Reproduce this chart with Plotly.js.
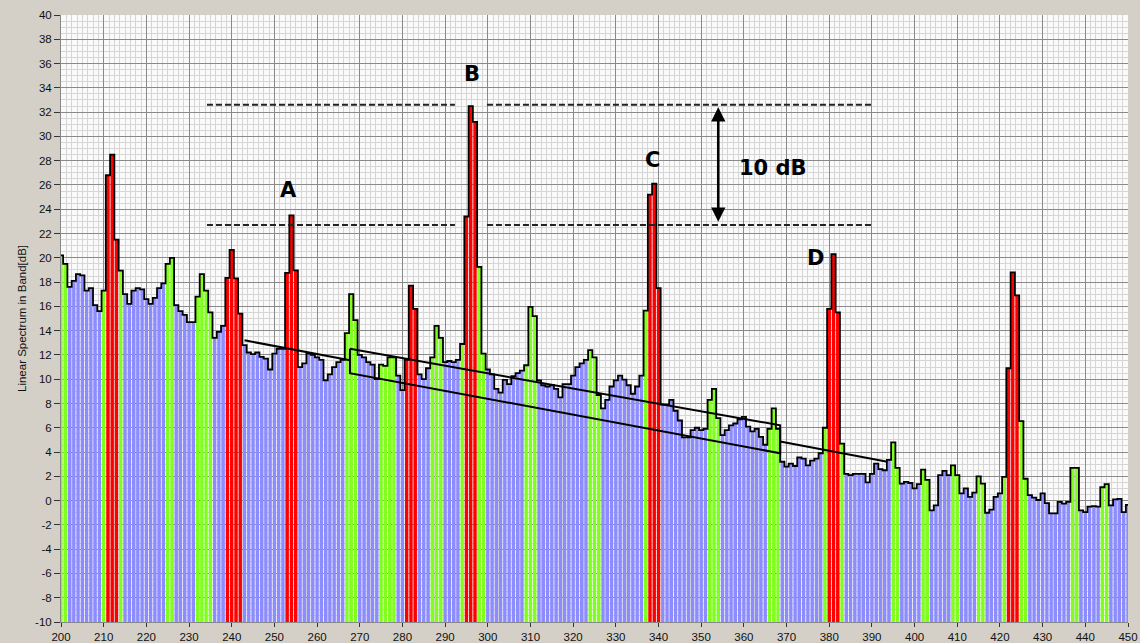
<!DOCTYPE html>
<html><head><meta charset="utf-8">
<script src="https://cdn.plot.ly/plotly-3.0.1.min.js"></script>
<style>html,body{margin:0;padding:0;background:#d4d0c8;overflow:hidden}#chart{width:1140px;height:643px}</style>
</head><body><div id="chart"></div>
<script>
// ---- data ----
const firstBin = 200;
const levels = [
  20.2, 19.5, 17.6, 18.1, 18.66, 18.55, 17.3, 17.5, 16.1, 15.6,
  17.3, 26.8, 28.5, 21.5, 18.95, 17.0, 16.2, 17.3, 17.5, 17.4,
  16.6, 16.2, 16.7, 17.5, 17.9, 19.5, 20.0, 16.1, 15.6, 15.3,
  14.7, 14.7, 16.8, 18.66, 17.3, 15.5, 13.4, 13.9, 14.4, 18.35,
  20.65, 18.3, 15.4, 12.8, 12.2, 12.06, 12.2, 11.84, 11.7, 10.8,
  12.1, 12.5, 12.5, 18.76, 23.5, 18.97, 11.0, 11.3, 12.1, 12.0,
  11.8, 11.6, 9.9, 10.4, 11.0, 11.4, 11.6, 13.8, 17.0, 14.86,
  12.0, 11.8, 11.4, 11.2, 10.0, 11.2, 11.1, 11.8, 11.8, 10.3,
  9.1, 11.6, 17.7, 15.8, 10.4, 10.0, 10.9, 11.8, 14.4, 13.4,
  11.4, 11.5, 11.4, 11.6, 12.9, 23.4, 32.5, 31.2, 19.25, 12.1,
  10.8, 10.4, 9.2, 8.9, 9.95, 9.6, 10.25, 10.5, 10.7, 11.15,
  15.95, 15.2, 9.9, 9.5, 9.4, 9.5, 9.2, 8.5, 9.6, 9.6,
  10.3, 11.0, 11.3, 11.6, 12.4, 11.8, 8.7, 7.6, 8.3, 9.4,
  9.9, 10.3, 9.97, 9.5, 8.8, 9.4, 10.3, 15.65, 25.2, 26.1,
  17.5, 7.9, 7.9, 8.3, 7.4, 6.6, 5.2, 5.2, 5.8, 6.0,
  5.8, 5.9, 8.3, 9.2, 6.8, 5.4, 5.8, 6.2, 6.35, 6.7,
  6.9, 6.1, 5.7, 5.9, 5.25, 4.6, 5.9, 7.6, 5.9, 3.2,
  2.8, 3.05, 2.85, 3.55, 3.45, 2.9, 3.3, 3.45, 3.9, 6.0,
  15.8, 20.3, 15.5, 4.7, 2.2, 2.1, 2.2, 2.2, 2.2, 1.5,
  2.2, 3.05, 2.6, 2.5, 3.35, 4.8, 2.7, 1.4, 1.55, 1.45,
  1.0, 1.35, 2.55, 1.7, -0.8, -0.4, 2.1, 2.45, 2.1, 2.9,
  2.1, 0.6, 1.0, 0.3, 0.65, 2.0, 1.4, -1.0, -0.75, 0.3,
  0.6, 1.95, 10.9, 18.8, 16.9, 6.55, 1.8, 0.45, 0.25, 0.05,
  0.6, -0.2, -1.05, -1.05, -0.1, -0.25, -0.1, 2.7, 2.7, -0.8,
  -0.95, -0.5, -0.45, -0.5, 1.1, 1.35, -0.4, 0.1, 0.15, -0.95,
  -0.35
];
const greenBins = [200,201,210,214,225,226,232,233,234,235,267,268,269,275,276,277,278,
  287,288,289,294,298,299,309,310,311,324,325,326,337,352,353,354,366,367,368,379,383,
  395,396,402,403,409,410,415,416,421,425,426,437,438,444,445];
const redBins = [211,212,213,239,240,241,242,253,254,255,281,282,283,295,296,297,
  338,339,340,380,381,382,422,423,424];
const peakNames = ['A','B','C','D'];
const refLevels = [32.6, 22.7];          // dashed 10 dB reference levels
const trendX = [243, 393.6];             // long trend line ends
const trendY = [13.2, 3.2];
const boxX = [267.7, 368.5];             // parallelogram left/right
const boxTop = [12.5, 6.2];
const boxBottom = [10.5, 3.9];
const yTickVals = [-10,-8,-6,-4,-2,0,2,4,6,8,10,12,14,16,18,20,22,24,26,28,30,32,34,36,38,40];
const yTickText = ['-10','-8','-6','-4','-2','0','2','4','6','8','10','12','14','16','18','20','22','24','26','28','30','32','34','36','38','40'];
const xTickVals = [200,210,220,230,240,250,260,270,280,290,300,310,320,330,340,350,360,370,380,390,400,410,420,430,440,450];

// ---- derived ----
const floorDb = -10;
const bins = levels.map((_, i) => firstBin + i);
const colors = bins.map(b => redBins.includes(b) ? '#ff0000' : (greenBins.includes(b) ? '#80ff1e' : '#8c8cff'));

const traces = [];
traces.push({type:'bar', x:bins, y:levels.map(v => v - floorDb), base:floorDb,
  marker:{color:colors, line:{width:0}}, hoverinfo:'skip'});
traces.push({type:'scatter', mode:'lines', x:bins, y:levels, line:{shape:'hvh', color:'#000', width:1.8}, hoverinfo:'skip'});

function lineAt(x){ return trendY[0] + (trendY[1]-trendY[0])*(x-trendX[0])/(trendX[1]-trendX[0]); }
traces.push({type:'scatter', mode:'lines', x:[trendX[0], boxX[0]], y:[trendY[0], lineAt(boxX[0])], line:{color:'#000', width:2}, hoverinfo:'skip'});
traces.push({type:'scatter', mode:'lines', x:[boxX[1], trendX[1]], y:[lineAt(boxX[1]), trendY[1]], line:{color:'#000', width:2}, hoverinfo:'skip'});
traces.push({type:'scatter', mode:'lines', x:[boxX[0], boxX[1], boxX[1], boxX[0], boxX[0]],
  y:[boxTop[0], boxTop[1], boxBottom[1], boxBottom[0], boxTop[0]], line:{color:'#000', width:2}, hoverinfo:'skip'});
refLevels.forEach(lv => {
  traces.push({type:'scatter', mode:'lines', x:[234.2, 292.3], y:[lv, lv], line:{color:'#222', width:2, dash:'6px,3px'}, hoverinfo:'skip'});
  traces.push({type:'scatter', mode:'lines', x:[299.8, 390.3], y:[lv, lv], line:{color:'#222', width:2, dash:'6px,3px'}, hoverinfo:'skip'});
});

const labelFont = {family:'DejaVu Sans, Verdana, sans-serif', size:21, color:'#000'};
const labelPos = [[253.2, 25.6], [296.3, 35.1], [338.7, 28.05], [376.7, 20.0]];
const annotations = peakNames.map((n, i) => ({x: labelPos[i][0], y: labelPos[i][1], xref:'x', yref:'y',
  text:'<b>'+n+'</b>', showarrow:false, font:labelFont, yanchor:'middle', xanchor:'center'}));
annotations.push({x:366.9, y:27.4, xref:'x', yref:'y', text:'<b>10 dB</b>', showarrow:false, font:labelFont, yanchor:'middle'});
annotations.push({x:354, y:refLevels[0]-0.2, ax:354, ay:refLevels[1]+0.15, xref:'x', yref:'y', axref:'x', ayref:'y',
  text:'', showarrow:true, arrowside:'end+start', arrowhead:2, arrowsize:1.1, arrowwidth:2.6, arrowcolor:'#000', standoff:0, startstandoff:0});

const tickFont = {family:'Liberation Sans, Arial, sans-serif', size:11.5, color:'#111'};
const layout = {
  width:1140, height:643,
  paper_bgcolor:'#d4d0c8', plot_bgcolor:'#fafafa',
  margin:{l:61, r:12, t:15, b:21, pad:0},
  showlegend:false, bargap:0.2,
  xaxis:{range:[200,450], tickvals:xTickVals, ticks:'outside', ticklen:4, tickcolor:'#333', tickwidth:1,
    showgrid:true, gridcolor:'#8a8a8a', gridwidth:1, zeroline:false, showline:true, linecolor:'#888',
    minor:{dtick:1.25, tick0:200, showgrid:true, gridcolor:'#d6d6d6', gridwidth:1, ticks:''},
    tickfont:tickFont, fixedrange:true, automargin:false},
  yaxis:{range:[-10,40], tickvals:yTickVals, ticktext:yTickText, ticks:'outside', ticklen:6, tickcolor:'#333', tickwidth:1,
    showgrid:true, gridcolor:'#8a8a8a', gridwidth:1, zeroline:false, showline:true, linecolor:'#888',
    minor:{dtick:0.5, showgrid:true, gridcolor:'#d6d6d6', gridwidth:1, ticks:''},
    tickfont:tickFont, fixedrange:true, automargin:false,
    title:{text:'Linear Spectrum in Band[dB]', font:{family:'Liberation Sans, Arial, sans-serif', size:11.5, color:'#111'}, standoff:6}},
  annotations:annotations
};
Plotly.newPlot('chart', traces, layout, {displayModeBar:false, staticPlot:true});
</script></body></html>
